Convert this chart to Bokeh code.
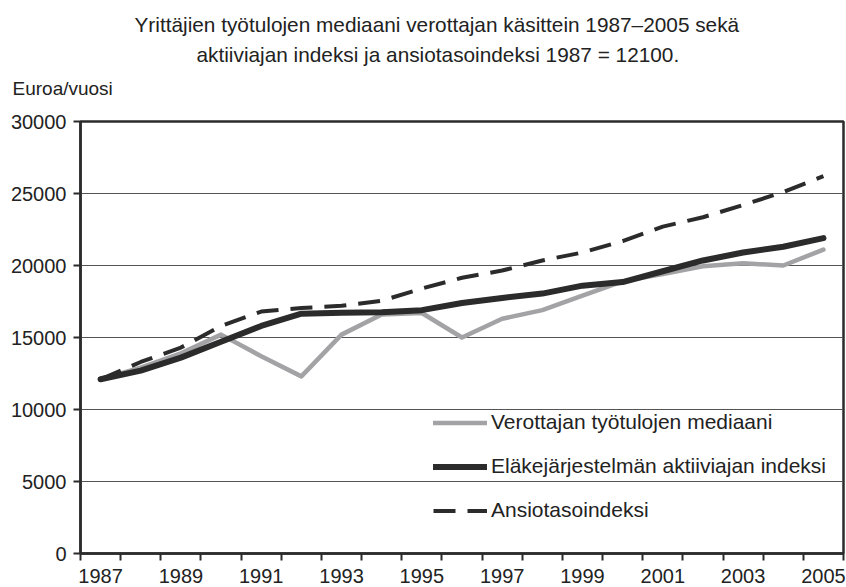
from bokeh.plotting import figure
from bokeh.models import FixedTicker, Range1d, Legend, LegendItem, Title
from bokeh.embed import file_html
from bokeh.resources import INLINE

# ---- data ----
years = list(range(1987, 2006))
verottajan = [12100, 12900, 13900, 15200, 13700, 12300, 15200, 16600, 16700, 15000,
              16300, 16900, 17900, 18900, 19400, 19950, 20150, 20000, 21100]
aktiiviajan = [12100, 12700, 13600, 14700, 15800, 16650, 16720, 16750, 16900, 17400,
               17750, 18050, 18600, 18850, 19600, 20350, 20900, 21300, 21900]
ansiotaso = [12100, 13300, 14300, 15800, 16800, 17050, 17200, 17550, 18400, 19150,
             19650, 20350, 20900, 21700, 22700, 23350, 24200, 25100, 26200]
y_ticks = [0, 5000, 10000, 15000, 20000, 25000, 30000]
x_label_years = list(range(1987, 2006, 2))
series_names = ["Verottajan työtulojen mediaani",
                "Eläkejärjestelmän aktiiviajan indeksi",
                "Ansiotasoindeksi"]
title_lines = ["Yrittäjien työtulojen mediaani verottajan käsittein 1987–2005 sekä",
               "aktiiviajan indeksi ja ansiotasoindeksi 1987 = 12100."]
y_unit = "Euroa/vuosi"

# ---- layout constants ----
W, H = 846, 587
BL, BR, BT, BB = 80, 3, 0, 34
FONT = "Liberation Sans"
TXT = "#222222"
DARK = "#2b2b2b"

p = figure(width=W, height=H, output_backend="svg", toolbar_location=None,
           x_range=Range1d(1986.5, 2005.5), y_range=Range1d(0, 30000),
           min_border_left=BL, min_border_right=BR, min_border_top=BT,
           min_border_bottom=BB, title=None)
p.background_fill_color = "white"
p.border_fill_color = "white"
p.outline_line_color = DARK
p.outline_line_width = 2.5

# axes
p.yaxis.ticker = FixedTicker(ticks=y_ticks)
p.yaxis.major_tick_in = 0
p.yaxis.major_tick_out = 7
p.yaxis.minor_tick_line_color = None
p.yaxis.axis_line_color = DARK
p.yaxis.axis_line_width = 2.5
p.yaxis.major_tick_line_color = DARK
p.yaxis.major_tick_line_width = 2
p.yaxis.major_label_text_font = FONT
p.yaxis.major_label_text_font_size = "20px"
p.yaxis.major_label_text_color = TXT
p.yaxis.major_label_standoff = 7

p.xaxis.ticker = FixedTicker(ticks=x_label_years,
                             minor_ticks=[y - 0.5 for y in years] + [years[-1] + 0.5])
p.xaxis.major_tick_line_color = None
p.xaxis.major_tick_in = 0
p.xaxis.major_tick_out = 7
p.xaxis.minor_tick_in = 0
p.xaxis.minor_tick_out = 7
p.xaxis.minor_tick_line_color = DARK
p.xaxis.minor_tick_line_width = 2
p.xaxis.axis_line_color = DARK
p.xaxis.axis_line_width = 2.5
p.xaxis.major_label_text_font = FONT
p.xaxis.major_label_text_font_size = "20px"
p.xaxis.major_label_text_color = TXT
p.xaxis.major_label_standoff = 8

p.xgrid.grid_line_color = None
p.ygrid.ticker = FixedTicker(ticks=y_ticks)
p.ygrid.grid_line_color = "#555555"
p.ygrid.grid_line_width = 1

r1 = p.line(years, verottajan, line_color="#a3a3a6", line_width=4.5,
            line_join="round", line_cap="round")
r2 = p.line(years, aktiiviajan, line_color=DARK, line_width=6,
            line_join="round", line_cap="round")
r3 = p.line(years, ansiotaso, line_color=DARK, line_width=4,
            line_dash="22 12", line_join="round")

legend = Legend(items=[LegendItem(label=series_names[0], renderers=[r1]),
                       LegendItem(label=series_names[1], renderers=[r2]),
                       LegendItem(label=series_names[2], renderers=[r3])],
                location=(353, 31))
legend.border_line_color = None
legend.background_fill_alpha = 0
legend.padding = 0
legend.margin = 0
legend.spacing = 20
legend.glyph_width = 54
legend.glyph_height = 23
legend.label_height = 23
legend.label_standoff = 4
legend.label_text_font = FONT
legend.label_text_font_size = "21px"
legend.label_text_color = TXT
p.add_layout(legend, "center")

# titles (innermost first)
def mk_title(text, offset, size, standoff):
    return Title(text=text, align="left", offset=offset, text_font=FONT,
                 text_font_size=size, text_font_style="normal", text_color=TXT,
                 standoff=standoff)

p.add_layout(mk_title(" ", 0, "1px", 14), "above")            # spacer above frame
p.add_layout(mk_title(y_unit, -68, "19px", 11), "above")
p.add_layout(mk_title(title_lines[1], 116, "20.8px", 10), "above")
p.add_layout(mk_title(title_lines[0], 54, "20.8px", 0), "above")
p.add_layout(mk_title(" ", 0, "1px", 7), "above")             # spacer at top

open("out.html", "w").write(file_html(p, INLINE))
